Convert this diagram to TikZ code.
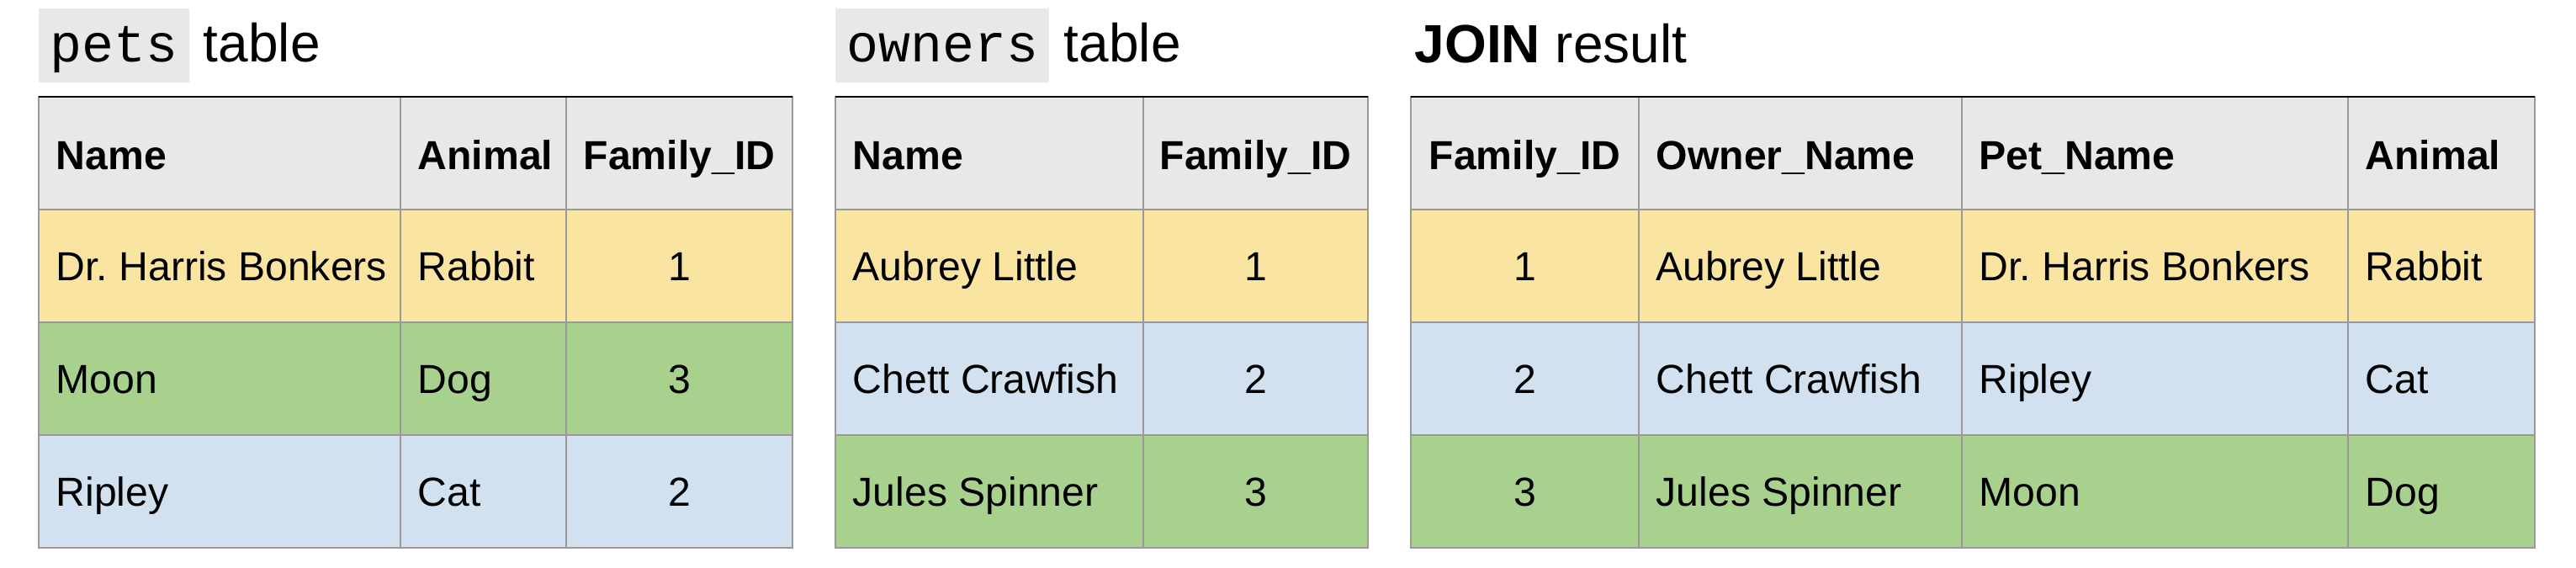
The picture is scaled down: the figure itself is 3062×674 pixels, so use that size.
\documentclass[tikz,border=0pt]{standalone}
\usepackage{fontspec}
\setmainfont{Liberation Sans}
\setmonofont{Liberation Mono}
\usepackage{xcolor}
\usetikzlibrary{positioning}
\definecolor{headgray}{RGB}{232,232,232}
\definecolor{rowyellow}{RGB}{250,228,162}
\definecolor{rowgreen}{RGB}{169,209,142}
\definecolor{rowblue}{RGB}{210,225,240}
\definecolor{rulegray}{RGB}{153,153,153}
\newcommand{\cellfont}{\fontsize{13.7pt}{16pt}\selectfont}
\newcommand{\titlefont}{\fontsize{18.2pt}{22pt}\selectfont}
\newcommand{\codefont}{\fontsize{18pt}{22pt}\selectfont\ttfamily}
\frenchspacing

\begin{document}
\begin{tikzpicture}[
    x=0.1mm, y=-0.1mm,
    cell/.style={inner sep=0pt, anchor=base west, font=\cellfont},
    num/.style={inner sep=0pt, anchor=base, font=\cellfont},
    headcell/.style={cell, font=\cellfont\bfseries},
    headnum/.style={num, font=\cellfont\bfseries},
    codename/.style={fill=headgray, font=\codefont, inner xsep=1.35mm, inner ysep=0pt,
        text height=6.3mm, text depth=2.5mm, anchor=base west},
    titletext/.style={inner sep=0pt, font=\titlefont},
    gridrule/.style={draw=rulegray, line width=0.2mm},
    headrule/.style={draw=black, line width=0.2mm}
]
    \useasboundingbox (0,0) rectangle (3062,674);

    % Left: pets table
    \begin{scope}[shift={(46,0)}]
        \node[codename] (petscode) at (-1,73) {pets};
        \node[titletext, base right=1.6mm of petscode] (petstitle) {table};

        % Row fills
        \fill[headgray] (0,115) rectangle (896,249);
        \fill[rowyellow] (0,249) rectangle (896,383);
        \fill[rowgreen] (0,383) rectangle (896,517);
        \fill[rowblue] (0,517) rectangle (896,651);

        % Rules
        \draw[gridrule] (0,249) -- (896,249) (0,383) -- (896,383) (0,517) -- (896,517);
        \draw[gridrule] (430,115) -- (430,651) (627,115) -- (627,651);
        \draw[gridrule] (0,115) rectangle (896,651);
        \draw[headrule] (0,115) -- (896,115);

        % Cells
        \node[headcell] (pname0) at (20,201) {Name};
        \node[headcell] (panimal0) at (450,201) {Animal};
        \node[headnum] (pid0) at (761.5,201) {Family\_ID};

        \node[cell] (pname1) at (20,333) {Dr. Harris Bonkers};
        \node[cell] (panimal1) at (450,333) {Rabbit};
        \node[num] (pid1) at (761.5,333) {1};

        \node[cell] (pname2) at (20,467) {Moon};
        \node[cell] (panimal2) at (450,467) {Dog};
        \node[num] (pid2) at (761.5,467) {3};

        \node[cell] (pname3) at (20,601) {Ripley};
        \node[cell] (panimal3) at (450,601) {Cat};
        \node[num] (pid3) at (761.5,601) {2};
    \end{scope}

    % Middle: owners table
    \begin{scope}[shift={(993,0)}]
        \node[codename] (ownerscode) at (-1,73) {owners};
        \node[titletext, base right=1.6mm of ownerscode] (ownerstitle) {table};

        % Row fills
        \fill[headgray] (0,115) rectangle (633,249);
        \fill[rowyellow] (0,249) rectangle (633,383);
        \fill[rowblue] (0,383) rectangle (633,517);
        \fill[rowgreen] (0,517) rectangle (633,651);

        % Rules
        \draw[gridrule] (0,249) -- (633,249) (0,383) -- (633,383) (0,517) -- (633,517);
        \draw[gridrule] (366,115) -- (366,651);
        \draw[gridrule] (0,115) rectangle (633,651);
        \draw[headrule] (0,115) -- (633,115);

        % Cells
        \node[headcell] (oname0) at (20,201) {Name};
        \node[headnum] (oid0) at (499.5,201) {Family\_ID};

        \node[cell] (oname1) at (20,333) {Aubrey Little};
        \node[num] (oid1) at (499.5,333) {1};

        \node[cell] (oname2) at (20,467) {Chett Crawfish};
        \node[num] (oid2) at (499.5,467) {2};

        \node[cell] (oname3) at (20,601) {Jules Spinner};
        \node[num] (oid3) at (499.5,601) {3};
    \end{scope}

    % Right: JOIN result
    \begin{scope}[shift={(1677,0)}]
        \node[titletext, anchor=base west] (jointitle) at (4,74) {\textbf{JOIN} result};

        % Row fills
        \fill[headgray] (0,115) rectangle (1336,249);
        \fill[rowyellow] (0,249) rectangle (1336,383);
        \fill[rowblue] (0,383) rectangle (1336,517);
        \fill[rowgreen] (0,517) rectangle (1336,651);

        % Rules
        \draw[gridrule] (0,249) -- (1336,249) (0,383) -- (1336,383) (0,517) -- (1336,517);
        \draw[gridrule] (271,115) -- (271,651) (655,115) -- (655,651) (1114,115) -- (1114,651);
        \draw[gridrule] (0,115) rectangle (1336,651);
        \draw[headrule] (0,115) -- (1336,115);

        % Cells
        \node[headnum] (jid0) at (135.5,201) {Family\_ID};
        \node[headcell] (jowner0) at (291,201) {Owner\_Name};
        \node[headcell] (jpet0) at (675,201) {Pet\_Name};
        \node[headcell] (janimal0) at (1134,201) {Animal};

        \node[num] (jid1) at (135.5,333) {1};
        \node[cell] (jowner1) at (291,333) {Aubrey Little};
        \node[cell] (jpet1) at (675,333) {Dr. Harris Bonkers};
        \node[cell] (janimal1) at (1134,333) {Rabbit};

        \node[num] (jid2) at (135.5,467) {2};
        \node[cell] (jowner2) at (291,467) {Chett Crawfish};
        \node[cell] (jpet2) at (675,467) {Ripley};
        \node[cell] (janimal2) at (1134,467) {Cat};

        \node[num] (jid3) at (135.5,601) {3};
        \node[cell] (jowner3) at (291,601) {Jules Spinner};
        \node[cell] (jpet3) at (675,601) {Moon};
        \node[cell] (janimal3) at (1134,601) {Dog};
    \end{scope}
\end{tikzpicture}
\end{document}
